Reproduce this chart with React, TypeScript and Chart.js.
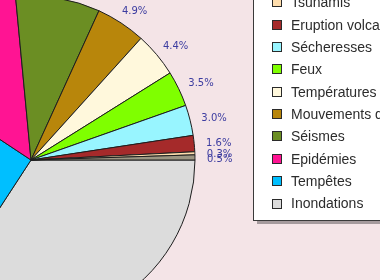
import { useEffect, useRef } from "react";
import { Chart, registerables } from "chart.js";

Chart.register(...registerables);

// Disaster types, in legend order (top to bottom); the pie runs counter-clockwise from 3 o'clock in this order.
const categories = [
  "Infestations d'insectes",
  "Tsunamis",
  "Eruption volcanique",
  "Sécheresses",
  "Feux",
  "Températures extrêmes",
  "Mouvements de terrain",
  "Séismes",
  "Epidémies",
  "Tempêtes",
  "Inondations",
];

// Share of events per type (%).
const shares = [0.5, 0.3, 1.6, 3.0, 3.5, 4.4, 4.9, 8.3, 14.2, 25.1, 34.2];

const sliceColors = [
  "#9c9682",
  "#ffdead",
  "#a52a2a",
  "#98f5ff",
  "#7fff00",
  "#fff8dc",
  "#b8860b",
  "#6b8e23",
  "#ff1493",
  "#00bfff",
  "#dcdcdc",
];

const PIE_RADIUS = 164;

const backdrop = {
  id: "backdrop",
  beforeDraw(chart: any) {
    const { ctx, width, height } = chart;
    ctx.save();
    ctx.fillStyle = "#f4e4e7";
    ctx.fillRect(0, 0, width, height);
    ctx.restore();
  },
};

// Percentage labels placed just outside each slice.
const sliceLabels = {
  id: "sliceLabels",
  afterDatasetsDraw(chart: any) {
    const { ctx } = chart;
    const meta = chart.getDatasetMeta(0);
    const values: number[] = chart.data.datasets[0].data;
    const total = values.reduce((a, b) => a + b, 0);
    ctx.save();
    ctx.font = '10px "DejaVu Sans", Verdana, sans-serif';
    ctx.fillStyle = "#3c3ca0";
    ctx.textAlign = "center";
    ctx.textBaseline = "middle";
    meta.data.forEach((arc: any, i: number) => {
      const { x, y, startAngle, endAngle, outerRadius } = arc.getProps(
        ["x", "y", "startAngle", "endAngle", "outerRadius"],
        true
      );
      const mid = (startAngle + endAngle) / 2;
      const c = Math.cos(mid);
      const s = Math.sin(mid);
      const text = ((values[i] / total) * 100).toFixed(1) + "%";
      const w = ctx.measureText(text).width;
      const h = 9;
      const ax = x + (outerRadius + 12) * c;
      const ay = y + (outerRadius + 12) * s;
      ctx.fillText(text, ax + (c * w) / 2, ay + (s * h) / 2 + 2);
    });
    ctx.restore();
  },
};

// Framed legend box with a drop shadow.
const boxedLegend = {
  id: "boxedLegend",
  afterDraw(chart: any) {
    const { ctx } = chart;
    const left = 253;
    const bottom = 220;
    const step = 22.35;
    const n = categories.length;
    const firstY = 203.5 - (n - 1) * step;
    const top = firstY - 17;
    const boxW = 215;
    const boxH = bottom - top;
    ctx.save();
    ctx.fillStyle = "#a59a9d";
    ctx.fillRect(left + 4, top + 4, boxW, boxH);
    ctx.fillStyle = "#ffffff";
    ctx.fillRect(left, top, boxW, boxH);
    ctx.strokeStyle = "#3a3a3a";
    ctx.lineWidth = 1;
    ctx.strokeRect(left + 0.5, top + 0.5, boxW, boxH);

    ctx.font = '14px "Liberation Sans", Arial, sans-serif';
    ctx.textAlign = "left";
    ctx.textBaseline = "middle";
    categories.forEach((name, i) => {
      const cy = firstY + i * step;
      ctx.fillStyle = sliceColors[i];
      ctx.fillRect(272, Math.round(cy - 5), 10, 10);
      ctx.strokeStyle = "#2a2a2a";
      ctx.strokeRect(272.5, Math.round(cy - 5) + 0.5, 9, 9);
      ctx.fillStyle = "#2c2c2c";
      ctx.fillText(name, 291, cy + 1);
    });
    ctx.restore();
  },
};

export default function App() {
  const canvasRef = useRef<HTMLCanvasElement | null>(null);

  useEffect(() => {
    if (!canvasRef.current) return;
    // Chart.js draws clockwise, so feed the slices in reverse.
    const order = categories.map((_, i) => categories.length - 1 - i);
    const chart = new Chart(canvasRef.current, {
      type: "pie",
      data: {
        labels: order.map((i) => categories[i]),
        datasets: [
          {
            data: order.map((i) => shares[i]),
            backgroundColor: order.map((i) => sliceColors[i]),
            borderColor: "#1e1e1e",
            borderWidth: 1,
          },
        ],
      },
      options: {
        responsive: false,
        animation: false,
        rotation: 90,
        radius: PIE_RADIUS,
        layout: { padding: { left: 0, right: 318, top: 40, bottom: 0 } },
        plugins: {
          legend: { display: false },
          tooltip: { enabled: false },
        },
      } as any,
      plugins: [backdrop, sliceLabels, boxedLegend],
    });
    return () => chart.destroy();
  }, []);

  return (
    <div style={{ position: "fixed", left: 0, top: 0, width: 380, height: 280, overflow: "hidden" }}>
      <canvas ref={canvasRef} width={380} height={280} style={{ display: "block" }} />
    </div>
  );
}
